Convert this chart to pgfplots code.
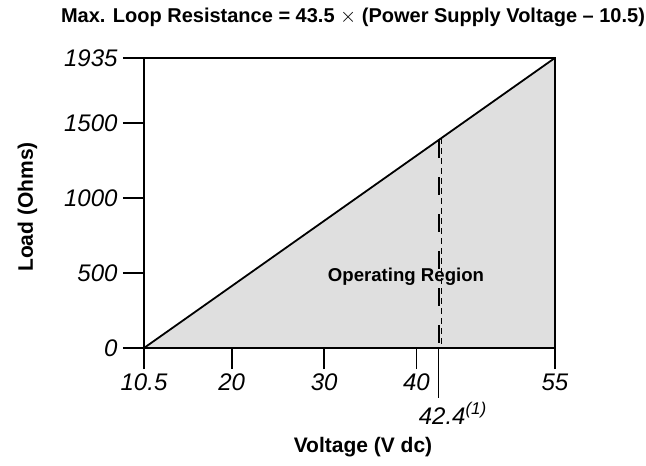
\documentclass[border=0pt]{standalone}
\usepackage{fontspec}
\setmainfont{Liberation Sans}
\newfontface\itf{Liberation Sans Italic}
\usepackage{pgfplots}
\pgfplotsset{compat=1.18}
\begin{document}
\begin{tikzpicture}
\useasboundingbox (-144pt,-118pt) rectangle (502pt,348pt);
\begin{axis}[
  scale only axis,
  width=411pt, height=290pt,
  xmin=10.5, xmax=55, ymin=0, ymax=1935,
  axis on top,
  clip=false,
  axis line style={line width=1.6pt},
  tick style={line width=1.6pt, black},
  tick align=outside,
  tick pos=left,
  major tick length=21pt,
  xtick={10.5,20,30,40,55},
  xticklabels={10.5,20,30,40,55},
  ytick={0,500,1000,1500,1935},
  yticklabels={0,500,1000,1500,1935},
  /pgf/number format/assume math mode=true,
  xticklabel style={yshift=-1pt},
  yticklabel style={xshift=-2pt},
  every tick label/.append style={font=\fontsize{24}{28}\itf},
]
\addplot[fill=gray!25, draw=none] coordinates {(10.5,0) (55,1935.75) (55,0)} -- cycle;
\addplot[line width=1.8pt, black] coordinates {(10.5,0) (55,1935.75)};
\addplot[line width=1.8pt, black, dash pattern=on 18pt off 19pt] coordinates {(42.4,1387.65) (42.4,0)};
\addplot[line width=0.8pt, black, dash pattern=on 6pt off 4pt] coordinates {(42.7,1400.7) (42.7,0)};
\draw[line width=1.6pt] (axis cs:42.4,0) -- ([yshift=-50pt]axis cs:42.4,0);
\node[anchor=base west, inner sep=0pt, font=\fontsize{24}{28}\itf] at ([xshift=-20pt,yshift=-76pt]axis cs:42.4,0) {42.4\raisebox{10pt}{\fontsize{17}{20}\itf(1)}};
\end{axis}
\node[anchor=base, font=\fontsize{20}{24}\selectfont\bfseries] at (209pt,325pt) {Max. Loop Resistance = 43.5 $\times$ (Power Supply Voltage – 10.5)};
\node[anchor=base, font=\fontsize{21}{25}\selectfont\bfseries] at (219pt,-104pt) {Voltage (V dc)};
\node[anchor=base, rotate=90, font=\fontsize{21}{25}\selectfont\bfseries] at (-111pt,141pt) {Load (Ohms)};
\node[anchor=base, font=\fontsize{18.6}{22}\selectfont\bfseries] at (262pt,66pt) {Operating Region};
\end{tikzpicture}
\end{document}
